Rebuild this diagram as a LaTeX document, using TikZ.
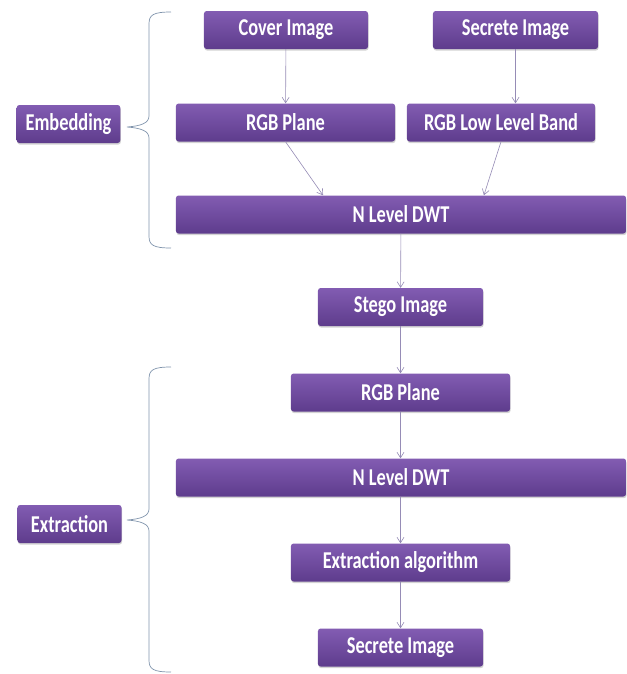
\documentclass[tikz,border=0pt]{standalone}
\usepackage{fontspec}
\newfontfamily\boxfont[FakeStretch=0.76]{Carlito}
\usetikzlibrary{arrows.meta,calc,shadows}
\definecolor{plumtop}{RGB}{130,92,178}
\definecolor{plumbot}{RGB}{94,60,140}
\definecolor{lavgray}{RGB}{150,140,182}
\definecolor{bracegray}{RGB}{128,148,172}
\tikzset{
  stage/.style={draw=none,rounded corners=3pt,top color=plumtop,bottom color=plumbot,minimum height=1.52cm,inner sep=0pt,text=white,font=\boxfont\bfseries\fontsize{27.5}{30}\selectfont,drop shadow={shadow xshift=0.6pt,shadow yshift=-1.8pt,opacity=0.35}},
  phase/.style={stage,minimum width=4.14cm},
  flow/.style={-{Straight Barb[length=2.2mm,width=2.8mm]},draw=lavgray,line width=0.7pt},
  bracket/.style={draw=bracegray,line width=0.8pt}
}

\begin{document}
\begin{tikzpicture}[x=0.04cm,y=-0.04cm]
  \useasboundingbox (0,0) rectangle (627,674);

  % embedding half
  \node[stage,minimum width=6.56cm] (cover) at (286,30) {Cover Image};
  \node[stage,minimum width=6.6cm] (secr) at (515.5,30) {Secrete Image};
  \node[stage,minimum width=8.76cm] (rgb) at (285.5,122.5) {RGB Plane};
  \node[stage,minimum width=7.52cm] (band) at (501,122.5) {RGB Low Level Band};
  \node[stage,minimum width=18cm] (dwt) at (401,214.5) {N Level DWT};
  \node[phase] (embed) at (68.5,124) {Embedding};

  % extraction half
  \node[stage,minimum width=6.6cm] (stego) at (400.5,307) {Stego Image};
  \node[stage,minimum width=8.76cm] (rgbx) at (400.5,392.5) {RGB Plane};
  \node[stage,minimum width=18cm] (dwtx) at (401,477.5) {N Level DWT};
  \node[stage,minimum width=8.76cm] (algo) at (400.5,562.5) {Extraction algorithm};
  \node[stage,minimum width=6.6cm] (secrx) at (400.5,647.5) {Secrete Image};
  \node[phase,minimum width=4.16cm] (extract) at (69.5,524) {Extraction};

  \draw[flow] (cover) -- (rgb);
  \draw[flow] (secr.south) -- (secr.south |- band.north);
  \draw[flow] (rgb.south) -- ($(dwt.north west)!0.327!(dwt.north east)$);
  \draw[flow] (band.south) -- ($(dwt.north west)!0.684!(dwt.north east)$);
  \draw[flow] (dwt) -- (stego);
  \draw[flow] (stego) -- (rgbx);
  \draw[flow] (rgbx.south) -- (rgbx.south |- dwtx.north);
  \draw[flow] (algo.north |- dwtx.south) -- (algo.north);
  \draw[flow] (algo) -- (secrx);

  % braces
  \draw[bracket] (171,12) .. controls (153,12) and (149,15) .. (149,24) -- (149,116)
    .. controls (149,123) and (141,126) .. (127,127)
    .. controls (141,128) and (149,131) .. (149,138) -- (149,236)
    .. controls (149,245) and (153,248) .. (171,248);
  \draw[bracket] (171,367) .. controls (153,367) and (149,370) .. (149,379) -- (149,509)
    .. controls (149,516) and (141,519) .. (127,520)
    .. controls (141,521) and (149,524) .. (149,531) -- (149,660)
    .. controls (149,669) and (153,672) .. (171,672);
\end{tikzpicture}
\end{document}
